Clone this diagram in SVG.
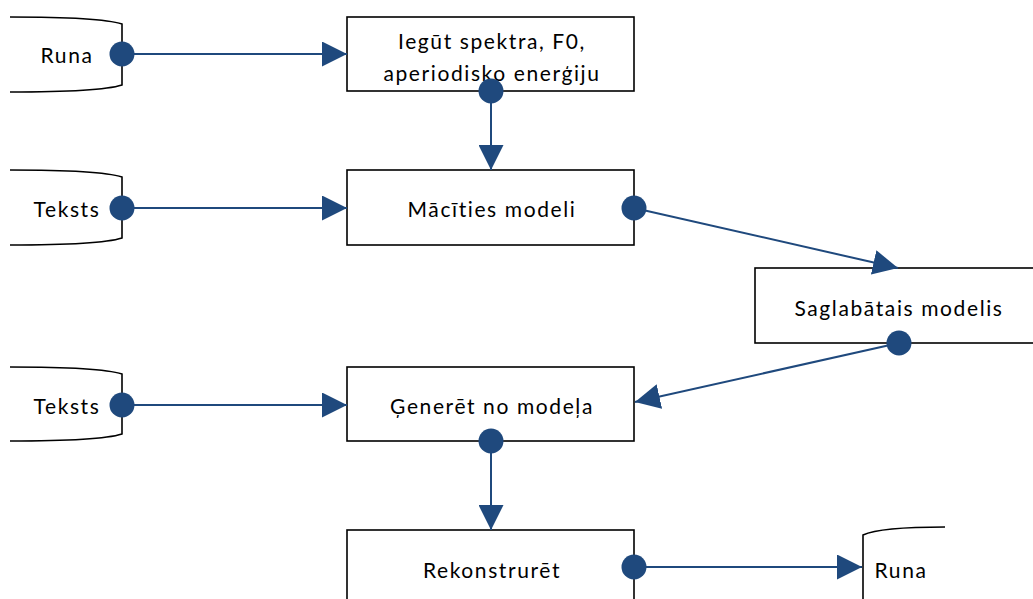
<svg xmlns="http://www.w3.org/2000/svg" width="1033" height="599" viewBox="0 0 1033 599">
<style>
.box{fill:#fff;stroke:#000;stroke-width:1.6}
.doc{fill:none;stroke:#000;stroke-width:1.6}
.t{font-family:Lato,"Liberation Sans",sans-serif;font-size:21px;letter-spacing:1.6px;fill:#000;text-anchor:middle;dominant-baseline:central}
.c{stroke:#1f497d;stroke-width:2;fill:none}
.dot{fill:#1f497d}
</style>
<defs>
<marker id="arr" viewBox="0 0 25 25" refX="25" refY="12.5" markerWidth="25" markerHeight="25" markerUnits="userSpaceOnUse" orient="auto">
<path d="M0,0 L25,12.5 L0,25 Z" fill="#1f497d"/>
</marker>
</defs>
<g id="runa1"><path class="doc" d="M10,17 Q100,17 122,24 L122,85 Q100,92 10,92"/><text class="t" x="67" y="54">Runa</text></g>
<g id="teksts1"><path class="doc" d="M10,170 Q100,170 122,177 L122,238 Q100,245 10,245"/><text class="t" x="67" y="208">Teksts</text></g>
<g id="teksts2"><path class="doc" d="M10,367 Q100,367 122,374 L122,434 Q100,441 10,441"/><text class="t" x="67" y="405">Teksts</text></g>
<g id="iegut"><rect class="box" x="347" y="17" width="287" height="74"/><text class="t" x="492" y="40">Iegūt spektra, F0,</text><text class="t" x="492" y="72">aperiodisko enerģiju</text></g>
<g id="macities"><rect class="box" x="347" y="170" width="287" height="75"/><text class="t" x="492" y="208">Mācīties modeli</text></g>
<g id="saglabatais"><rect class="box" x="755" y="268" width="290" height="75"/><text class="t" x="899" y="307">Saglabātais modelis</text></g>
<g id="generet"><rect class="box" x="347" y="367" width="287" height="74"/><text class="t" x="492" y="405">Ģenerēt no modeļa</text></g>
<g id="rekonstruret"><rect class="box" x="347" y="530" width="287" height="80"/><text class="t" x="492" y="569">Rekonstrurēt</text></g>
<g id="runa2"><path class="doc" d="M945,527 Q880,527 863,535 L863,605"/><text class="t" x="901" y="569">Runa</text></g>
<g id="connectors">
<line class="c" x1="122" y1="54" x2="347" y2="54" marker-end="url(#arr)"/>
<line class="c" x1="491" y1="91" x2="491" y2="170" marker-end="url(#arr)"/>
<line class="c" x1="122" y1="208" x2="347" y2="208" marker-end="url(#arr)"/>
<line class="c" x1="634" y1="208" x2="898" y2="268" marker-end="url(#arr)"/>
<line class="c" x1="899" y1="343" x2="635" y2="402" marker-end="url(#arr)"/>
<line class="c" x1="122" y1="405" x2="347" y2="405" marker-end="url(#arr)"/>
<line class="c" x1="491" y1="441" x2="491" y2="530" marker-end="url(#arr)"/>
<line class="c" x1="634" y1="567" x2="862" y2="567" marker-end="url(#arr)"/>
<circle class="dot" cx="122" cy="54" r="12.5"/>
<circle class="dot" cx="491" cy="91" r="12.5"/>
<circle class="dot" cx="122" cy="208" r="12.5"/>
<circle class="dot" cx="634" cy="208" r="12.5"/>
<circle class="dot" cx="899" cy="343" r="12.5"/>
<circle class="dot" cx="122" cy="405" r="12.5"/>
<circle class="dot" cx="491" cy="441" r="12.5"/>
<circle class="dot" cx="634" cy="567" r="12.5"/>
</g>
</svg>
